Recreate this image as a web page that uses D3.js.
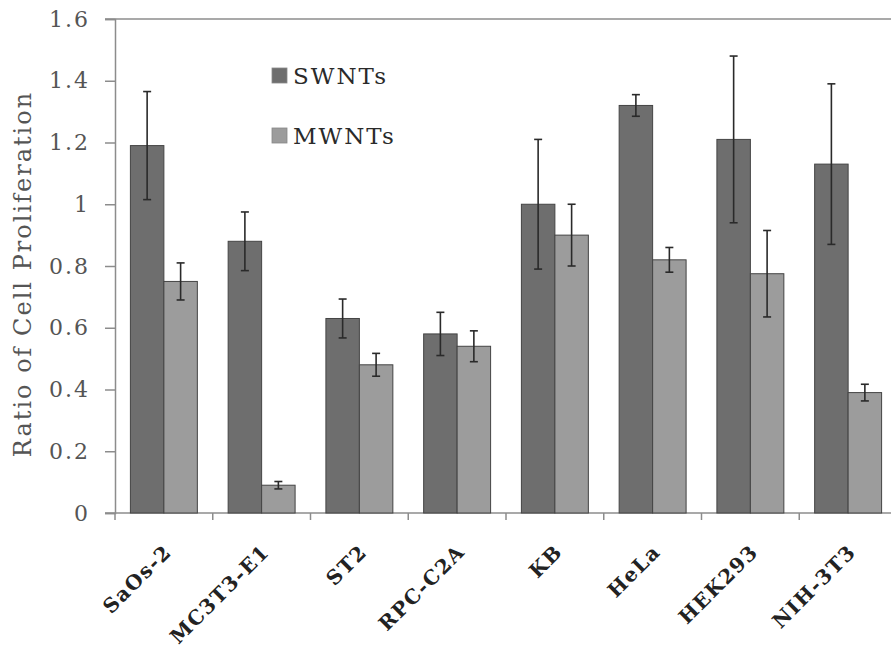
<!DOCTYPE html>
<html>
<head>
<meta charset="utf-8">
<script src="https://cdn.jsdelivr.net/npm/d3@7"></script>
<style>
  body { margin: 0; background: #fff; }
  svg { display: block; font-family: "DejaVu Serif", "Liberation Serif", serif; }
</style>
</head>
<body>
<div id="chart"></div>
<script>
// values
var cellLines = ["SaOs-2", "MC3T3-E1", "ST2", "RPC-C2A", "KB", "HeLa", "HEK293", "NIH-3T3"];
var seriesNames = ["SWNTs", "MWNTs"];
var swnt = [1.19, 0.88, 0.63, 0.58, 1.0, 1.32, 1.21, 1.13];
var swntErr = [0.175, 0.095, 0.063, 0.07, 0.21, 0.035, 0.27, 0.26];
var mwnt = [0.75, 0.09, 0.48, 0.54, 0.9, 0.82, 0.775, 0.39];
var mwntErr = [0.06, 0.012, 0.037, 0.05, 0.1, 0.04, 0.14, 0.027];
var yTicks = [0, 0.2, 0.4, 0.6, 0.8, 1, 1.2, 1.4, 1.6];
var yTickLabels = ["0", "0.2", "0.4", "0.6", "0.8", "1", "1.2", "1.4", "1.6"];

var width = 891, height = 650;
var plotLeft = 115, plotTop = 19, plotBottom = 513, plotRight = 897;
var colors = { SWNTs: "#6e6e6e", MWNTs: "#9c9c9c" };

var svg = d3.select("#chart")
  .append("svg")
  .attr("width", width)
  .attr("height", height);

var x = d3.scaleBand()
  .domain(cellLines)
  .range([plotLeft, plotRight]);

var xSeries = d3.scaleBand()
  .domain(seriesNames)
  .range([0, x.bandwidth()])
  .paddingOuter(0.46);

var y = d3.scaleLinear()
  .domain([0, 1.6])
  .range([plotBottom, plotTop]);

// rows: one per bar
var rows = [];
cellLines.forEach(function (c, i) {
  rows.push({ cell: c, series: "SWNTs", value: swnt[i], err: swntErr[i] });
  rows.push({ cell: c, series: "MWNTs", value: mwnt[i], err: mwntErr[i] });
});

// y axis
var yAxis = svg.append("g")
  .attr("transform", "translate(" + plotLeft + ",0)")
  .call(d3.axisLeft(y)
    .tickValues(yTicks)
    .tickFormat(function (d, i) { return yTickLabels[i]; })
    .tickSize(10)
    .tickPadding(15));
yAxis.select(".domain").attr("stroke", "#8c8c8c").attr("stroke-width", 1.5);
yAxis.selectAll(".tick line").attr("stroke", "#8c8c8c").attr("stroke-width", 1.5);
yAxis.selectAll(".tick text")
  .attr("fill", "#555")
  .style("font-size", "22px")
  .style("letter-spacing", "2px")
  .style("font-family", "DejaVu Serif");

// top border of the plot area
svg.append("line")
  .attr("x1", plotLeft - 10).attr("x2", width)
  .attr("y1", y(1.6)).attr("y2", y(1.6))
  .attr("stroke", "#8c8c8c")
  .attr("stroke-width", 1.5);

// x axis
var xAxis = svg.append("g")
  .attr("transform", "translate(0," + plotBottom + ")");
xAxis.append("line")
  .attr("x1", plotLeft - 10).attr("x2", width)
  .attr("stroke", "#8c8c8c").attr("stroke-width", 1.5);
xAxis.selectAll(".sep")
  .data(cellLines)
  .join("line")
  .attr("class", "sep")
  .attr("x1", function (d) { return x(d); })
  .attr("x2", function (d) { return x(d); })
  .attr("y1", 0).attr("y2", 7)
  .attr("stroke", "#8c8c8c").attr("stroke-width", 1.5);

// category labels, rotated
svg.selectAll(".cat")
  .data(cellLines)
  .join("text")
  .attr("class", "cat")
  .attr("transform", function (d) {
    return "translate(" + (x(d) + x.bandwidth() / 2 + 9) + "," + (plotBottom + 40) + ") rotate(-45)";
  })
  .attr("text-anchor", "end")
  .attr("fill", "#222")
  .style("font-size", "20px")
  .style("font-weight", "bold")
  .style("letter-spacing", "1.5px")
  .text(function (d) { return d; });

// bars
svg.selectAll(".bar")
  .data(rows)
  .join("rect")
  .attr("class", "bar")
  .attr("x", function (d) { return x(d.cell) + xSeries(d.series); })
  .attr("width", xSeries.bandwidth())
  .attr("y", function (d) { return y(d.value); })
  .attr("height", function (d) { return y(0) - y(d.value); })
  .attr("fill", function (d) { return colors[d.series]; })
  .attr("stroke", "#444")
  .attr("stroke-width", 1);

// error bars
var eb = svg.selectAll(".err")
  .data(rows)
  .join("g")
  .attr("class", "err")
  .attr("transform", function (d) {
    return "translate(" + (x(d.cell) + xSeries(d.series) + xSeries.bandwidth() / 2) + ",0)";
  })
  .attr("stroke", "#2a2a2a")
  .attr("stroke-width", 1.6);
eb.append("line")
  .attr("y1", function (d) { return y(d.value + d.err); })
  .attr("y2", function (d) { return y(d.value - d.err); });
eb.append("line")
  .attr("x1", -4).attr("x2", 4)
  .attr("y1", function (d) { return y(d.value + d.err); })
  .attr("y2", function (d) { return y(d.value + d.err); });
eb.append("line")
  .attr("x1", -4).attr("x2", 4)
  .attr("y1", function (d) { return y(d.value - d.err); })
  .attr("y2", function (d) { return y(d.value - d.err); });

// y axis title
svg.append("text")
  .attr("transform", "translate(31," + 274 + ") rotate(-90)")
  .attr("text-anchor", "middle")
  .attr("fill", "#555")
  .style("font-size", "24px")
  .style("letter-spacing", "2px")
  .text("Ratio of Cell Proliferation");

// legend
var legend = svg.selectAll(".legend")
  .data(seriesNames)
  .join("g")
  .attr("class", "legend")
  .attr("transform", function (d, i) { return "translate(272," + (68 + i * 60) + ")"; });
legend.append("rect")
  .attr("width", 15).attr("height", 15)
  .attr("fill", function (d) { return colors[d]; })
  .attr("stroke", "#888")
  .attr("stroke-width", 0.8);
legend.append("text")
  .attr("x", 21)
  .attr("y", 16)
  .attr("fill", "#2a2a2a")
  .style("font-size", "23px")
  .style("letter-spacing", "2px")
  .text(function (d) { return d; });
</script>
</body>
</html>
